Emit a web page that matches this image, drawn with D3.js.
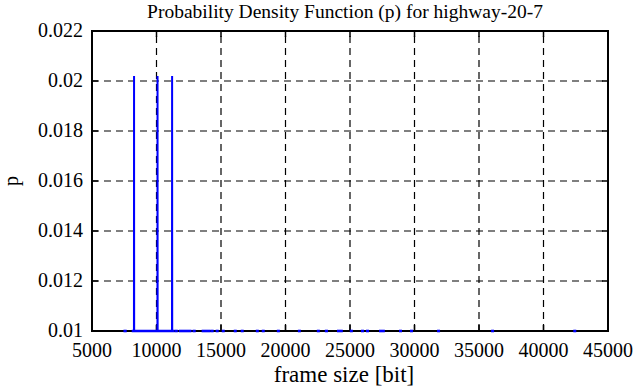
<!DOCTYPE html>
<html><head><meta charset="utf-8">
<script src="https://cdn.jsdelivr.net/npm/d3@7"></script>
<style>body{margin:0;background:#fff}svg{display:block}</style>
</head><body><svg id="c" width="636" height="387"></svg>
<script>
// ---- data ----
const xTicks = [5000,10000,15000,20000,25000,30000,35000,40000,45000];
const yTicks = [0.01,0.012,0.014,0.016,0.018,0.02,0.022];
const yTickLabels = ["0.01","0.012","0.014","0.016","0.018","0.02","0.022"];
const spikeFrameSize = [8260, 10080, 11210];
const spikeP = [0.0202, 0.0202, 0.0202];
// frame-size ranges where p just touches the 0.01 floor of the plot
const floorRunStart = [7540, 8180, 11500, 11830, 12900, 13600, 14300, 14690, 15160, 16090, 16630, 17800, 18260, 19430, 21060, 22530, 23150, 24090, 25090, 25950, 26340, 27350, 28900, 29750, 31850, 36040, 42410];
const floorRunEnd   = [7590, 11290, 11550, 12610, 12940, 14090, 14330, 14720, 15190, 16120, 16660, 17830, 18290, 19460, 21090, 22560, 23190, 24340, 25120, 25980, 26370, 27600, 28930, 29780, 31880, 36070, 42440];
const floorP = 0.01;

// ---- layout ----
const FONT = "'Liberation Serif','Times New Roman','DejaVu Serif',serif";
const W=636,H=387, m={l:92,r:28,t:31,b:56};
const svg=d3.select("#c").attr("font-family",FONT);
const x=d3.scaleLinear().domain([5000,45000]).range([m.l,W-m.r]);
const y=d3.scaleLinear().domain([0.01,0.022]).range([H-m.b,m.t]);

svg.append("defs").append("clipPath").attr("id","cp").append("rect")
  .attr("x",m.l).attr("y",m.t).attr("width",W-m.l-m.r).attr("height",H-m.t-m.b+2);

// grid
const g=svg.append("g");
g.selectAll("line.gx").data(xTicks.slice(1,-1)).join("line")
  .attr("x1",d=>x(d)).attr("x2",d=>x(d)).attr("y1",y(0.01)).attr("y2",y(0.022))
  .attr("stroke","#000").attr("stroke-width",1.2).attr("stroke-dasharray","7,5");
g.selectAll("line.gy").data(yTicks.slice(1,-1)).join("line")
  .attr("y1",d=>y(d)).attr("y2",d=>y(d)).attr("x1",x(5000)).attr("x2",x(45000))
  .attr("stroke","#000").attr("stroke-width",1.2).attr("stroke-dasharray","7,5");

// ticks (inward, mirrored)
const tl=6;
xTicks.forEach(v=>{
  svg.append("line").attr("x1",x(v)).attr("x2",x(v)).attr("y1",y(0.01)).attr("y2",y(0.01)-tl).attr("stroke","#000").attr("stroke-width",1.5);
  svg.append("line").attr("x1",x(v)).attr("x2",x(v)).attr("y1",y(0.022)).attr("y2",y(0.022)+tl).attr("stroke","#000").attr("stroke-width",1.5);
});
yTicks.forEach(v=>{
  svg.append("line").attr("y1",y(v)).attr("y2",y(v)).attr("x1",x(5000)).attr("x2",x(5000)+tl).attr("stroke","#000").attr("stroke-width",1.5);
  svg.append("line").attr("y1",y(v)).attr("y2",y(v)).attr("x1",x(45000)).attr("x2",x(45000)-tl).attr("stroke","#000").attr("stroke-width",1.5);
});

// border
svg.append("rect").attr("x",x(5000)).attr("y",y(0.022)).attr("width",x(45000)-x(5000)).attr("height",y(0.01)-y(0.022))
  .attr("fill","none").attr("stroke","#000").attr("stroke-width",2);

// data
const line=d3.line().x(d=>x(d[0])).y(d=>y(d[1]));
const dg=svg.append("g").attr("clip-path","url(#cp)");
floorRunStart.forEach((s,i)=>{
  dg.append("path").attr("d",line([[s,floorP],[floorRunEnd[i],floorP]]))
    .attr("fill","none").attr("stroke","#0000ff").attr("stroke-width",2.6).attr("stroke-linecap","square");
});
spikeFrameSize.forEach((s,i)=>{
  dg.append("path").attr("d",line([[s-8,floorP],[s,spikeP[i]],[s+8,floorP]]))
    .attr("fill","none").attr("stroke","#0000ff").attr("stroke-width",2);
});

// labels
svg.selectAll("text.xt").data(xTicks).join("text")
  .attr("x",d=>x(d)).attr("y",H-m.b+26).attr("text-anchor","middle").attr("font-size",20).text(d=>d);
svg.selectAll("text.yt").data(yTicks).join("text")
  .attr("x",m.l-9).attr("y",d=>y(d)+6).attr("text-anchor","end").attr("font-size",20).text((d,i)=>yTickLabels[i]);
svg.append("text").attr("x",(m.l+W-m.r)/2-5).attr("y",18).attr("text-anchor","middle").attr("font-size",19.5)
  .text("Probability Density Function (p) for highway-20-7");
svg.append("text").attr("x",(m.l+W-m.r)/2-6).attr("y",382).attr("text-anchor","middle").attr("font-size",23).text("frame size [bit]");
svg.append("text").attr("transform",`translate(18,${(m.t+H-m.b)/2}) rotate(-90)`).attr("text-anchor","middle").attr("font-size",20).text("p");
</script></body></html>
